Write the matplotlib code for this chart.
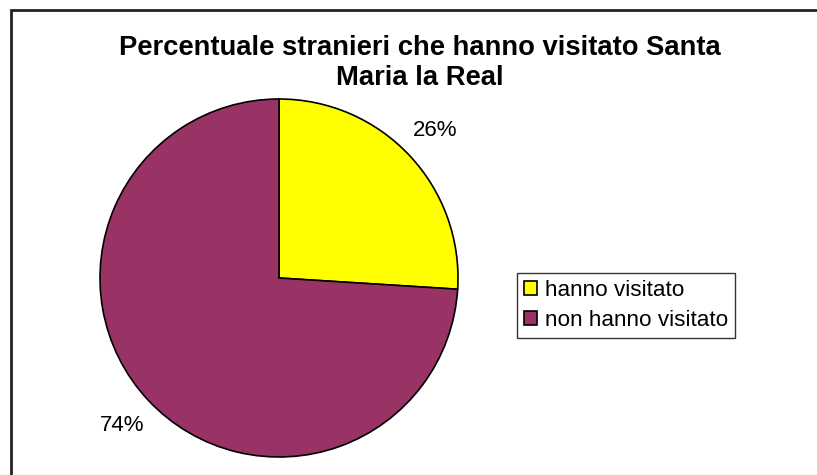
import matplotlib.pyplot as plt
from matplotlib.patches import Rectangle

plt.rcParams['font.family'] = ['Liberation Sans', 'DejaVu Sans']

labels = ['hanno visitato', 'non hanno visitato']
values = [26, 74]
colors = ['#FFFF00', '#993366']
title = 'Percentuale stranieri che hanno visitato Santa\nMaria la Real'

W, H = 817, 475
fig = plt.figure(figsize=(W / 100, H / 100), dpi=100)

# outer frame (only top/left visible in the crop)
fig.patches.append(Rectangle((11 / W, -0.1), 1.2, 1 - 10 / H + 0.1,
                             transform=fig.transFigure, fill=False,
                             edgecolor='#222222', linewidth=2))

cx, cy, r = 279, 278, 179
ax = fig.add_axes([(cx - r) / W, (H - cy - r) / H, 2 * r / W, 2 * r / H])
wedges, _, autotexts = ax.pie(values, colors=colors, startangle=90, counterclock=False,
                              autopct='%1.0f%%', pctdistance=1.2,
                              wedgeprops=dict(edgecolor='black', linewidth=1.2))
for t in autotexts:
    t.set_fontsize(16)
ax.set_xlim(-1, 1)
ax.set_ylim(-1, 1)
ax.set_aspect('equal')

fig.text(420 / W, 1 - 63 / H, title, ha='center', va='center',
         fontsize=19.7, fontweight='bold', linespacing=1.2)

leg = fig.legend(wedges, labels, loc='upper left',
                 bbox_to_anchor=(517 / W, 1 - 273 / H), fontsize=16.2,
                 frameon=True, fancybox=False, edgecolor='black',
                 handlelength=0.6, handleheight=0.6, handletextpad=0.35,
                 borderpad=0.3, labelspacing=0.42, borderaxespad=0)
leg.get_frame().set_linewidth(1)

fig.savefig('out.png', dpi=100)
